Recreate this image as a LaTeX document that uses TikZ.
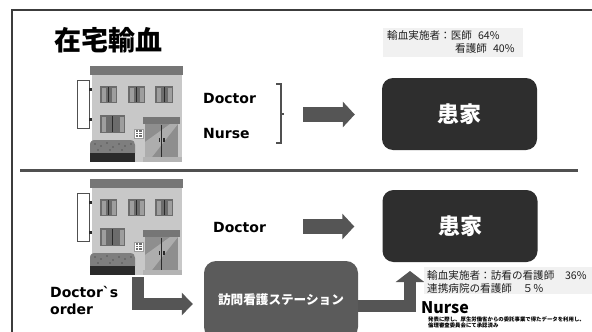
\documentclass[tikz,border=0pt]{standalone}
\usepackage{fontspec}
\setmainfont{DejaVu Sans}
\newfontfamily\lat{DejaVu Sans}[Ligatures=TeXOff]
\newfontfamily\jp{Noto Sans CJK JP}
\usetikzlibrary{arrows.meta}

\definecolor{framec}{HTML}{3C3C3C}
\definecolor{rulec}{HTML}{505050}
\definecolor{arrc}{HTML}{555555}
\definecolor{homec}{HTML}{2E2E2E}
\definecolor{stationc}{HTML}{5B5B5B}
\definecolor{infoc}{HTML}{F1F1F1}
\definecolor{roofc}{HTML}{767676}
\definecolor{wallc}{HTML}{C8C8C8}
\definecolor{winc}{HTML}{6C6C6C}
\definecolor{curtc}{HTML}{9E9E9E}
\definecolor{doorc}{HTML}{8E8E8E}
\definecolor{doorlc}{HTML}{ADADAD}
\definecolor{bushc}{HTML}{7E7E7E}
\definecolor{darkc}{HTML}{2A2A2A}
\definecolor{basec}{HTML}{B4B4B4}

% one window with curtains: x, y, width, height
\newcommand\bldwin[4]{%
  \fill[winc] (#1,#2) rectangle ++(#3,#4);
  \fill[curtc] (#1+1.5,#2+1.5) rectangle ++(4,#4-3);
  \fill[curtc] (#1+#3-5.5,#2+1.5) rectangle ++(4,#4-3);
  \draw[darkc,line width=0.8pt] (#1+#3/2,#2+1) -- ++(0,#4-2);
}

\tikzset{
  building/.pic={
    % roof and wall
    \fill[roofc] (0,0) rectangle (93,9);
    \fill[wallc] (2,9) rectangle (92,96);
    % hanging sign
    \filldraw[fill=white,draw=rulec,line width=0.8pt] (-13,14) rectangle (-1,62);
    \fill[darkc] (-1,22) rectangle (2,24.5);
    \fill[darkc] (-1,52) rectangle (2,54.5);
    % windows
    \bldwin{10}{20}{17}{17}
    \bldwin{38}{20}{17}{17}
    \bldwin{65}{20}{18}{17}
    \bldwin{10}{49}{25}{18}
    % entrance
    \fill[roofc] (53,51) rectangle (90,58);
    \fill[doorc] (55,58) rectangle (88,91);
    \fill[doorlc] (55,91) -- (55,76) -- (80,58) -- (88,58) -- (62,91) -- cycle;
    \draw[darkc,line width=0.8pt] (71.5,59) -- (71.5,91);
    \fill[darkc] (68.5,72) rectangle (70,76);
    \fill[darkc] (73,72) rectangle (74.5,76);
    \fill[basec] (53,91) rectangle (92,96);
    % intercom plate
    \filldraw[fill=white,draw=curtc,line width=0.4pt] (44,63) rectangle (53,72);
    \foreach \iy in {65,67.5,70} {
      \fill[winc] (45.5,\iy-0.6) rectangle (48,\iy+0.6);
      \fill[winc] (49,\iy-0.6) rectangle (51.5,\iy+0.6);
    }
    % hedge and planter
    \fill[bushc] (0,87) -- (0,79) .. controls (0,75) and (2,74) .. (6,74)
      -- (39,74) .. controls (44,74) and (45,76) .. (45,79) -- (45,87) -- cycle;
    \foreach \dx/\dy in {5/78,11/80,17/77,23/81,29/78,35/80,41/78,8/84,20/84,32/84} {
      \fill[darkc] (\dx,\dy) circle (0.7);
    }
    \fill[darkc] (0,87) rectangle (45,96);
  },
  blkarr/.style={draw=arrc,line width=15pt,-{Triangle[width=25pt,length=12pt]}},
  elbarr/.style={draw=arrc,line width=12pt,line join=miter,-{Triangle[width=#1,length=11pt]}},
  homebox/.style={fill=homec,rounded corners=11pt,minimum width=155pt,minimum height=72pt,
    text=white,font=\jp\bfseries\fontsize{22}{22}\selectfont},
  lab/.style={anchor=west,inner sep=0pt,font=\lat\bfseries\fontsize{14}{14}\selectfont},
  infotext/.style={anchor=west,inner sep=0pt,text=black!88,font=\jp\fontsize{10.6}{10.6}\selectfont},
}

\begin{document}
\begin{tikzpicture}[x=1pt,y=-1pt]
\useasboundingbox (0,0) rectangle (592,332);
\clip (0,0) rectangle (592,332);
\fill[white] (0,0) rectangle (592,332);

% slide frame and divider
\draw[framec,line width=2pt] (11.5,340) -- (11.5,10) -- (600,10);
\draw[rulec,line width=3pt] (20,170.5) -- (578,170.5);

% title
\node[anchor=west,inner sep=0pt,font=\jp\bfseries\fontsize{27}{27}\selectfont] (title) at (54,40) {在宅輸血};

% ---------- upper part ----------
\pic at (90,66) {building};
\node[anchor=north west,inner sep=0pt,minimum width=93pt,minimum height=96pt] (b1) at (90,66) {};
\node[lab] (doc1) at (203,98) {Doctor};
\node[lab] (nur1) at (203,133) {Nurse};
\draw[rulec,line width=2pt] (276,84) -- (281,84) -- (281,143) -- (276,143);
\draw[rulec,line width=2pt] (281,114) -- (284,114);
\coordinate (brk) at (284,114.5);

\node[homebox] (home1) at (459.5,114) {患家};
\draw[blkarr,shorten <=19pt,shorten >=27pt] (brk) -- (brk -| home1.west);

\fill[infoc] (383,28) rectangle (523,57);
\node[infotext] (info1a) at (387,35) {輸血実施者：医師\hspace{6pt}64\%};
\node[infotext] (info1b) at (455,48) {看護師\hspace{6pt}40\%};

% ---------- lower part ----------
\pic at (90,179) {building};
\node[anchor=north west,inner sep=0pt,minimum width=93pt,minimum height=96pt] (b2) at (90,179) {};
\node[lab] (doc2) at (213,227) {Doctor};

\node[homebox] (home2) at (460,226) {患家};
\coordinate (a2s) at (303,226.5);
\draw[blkarr,shorten >=28pt] (a2s) -- (a2s -| home2.west);

\node[fill=stationc,rounded corners=12pt,minimum width=154pt,minimum height=78pt,
  text=white,font=\jp\bfseries\fontsize{12.6}{12.6}\selectfont] (station) at (281,300) {訪問看護ステーション};

\node[lab,align=left,anchor=north west,font=\lat\bfseries\fontsize{14}{17}\selectfont] (order) at (50,286) {Doctor`s\\order};

% order to the visiting nurse station
\coordinate (l1) at (137.5,277);
\draw[elbarr=22pt,shorten >=11pt] (l1) |- ([yshift=-4pt]station.west);

% station to the patient's home
\coordinate (tip2) at (410,271);
\draw[elbarr=28pt] ([yshift=-6pt]station.east) -| (tip2);

\fill[infoc] (424,267) rectangle (592,294);
\node[infotext] (info2a) at (427,275) {輸血実施者：訪看の看護師　36\%};
\node[infotext] (info2b) at (427,288) {連携病院の看護師　５％};

\node[anchor=west,inner sep=0pt,font=\jp\bfseries\fontsize{16}{16}\selectfont] (nur2) at (421,308) {Nurse};
\node[anchor=north west,inner sep=0pt,align=left,font=\jp\bfseries\fontsize{5.4}{6}\selectfont] (note) at (428,316.5)
  {発表に際し、厚生労働省からの委託事業で得たデータを利用し、\\倫理審査委員会にて承認済み};
\end{tikzpicture}
\end{document}
